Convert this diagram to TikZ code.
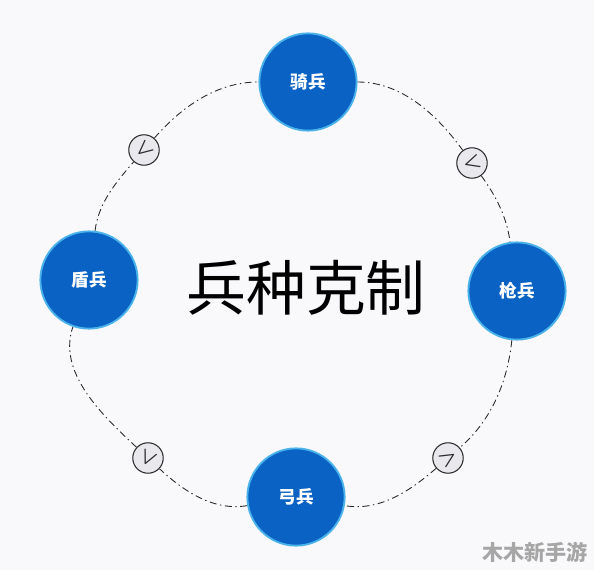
\documentclass[tikz,border=0pt]{standalone}
\usepackage{amsmath}
\usepackage{fontspec}
\newfontfamily\cjk{Noto Sans CJK SC}
\usetikzlibrary{positioning}
\definecolor{bgc}{HTML}{F9F8FB}
\definecolor{unitblue}{HTML}{0A62C4}
\definecolor{unitrim}{HTML}{4AB2EA}
\definecolor{ringc}{HTML}{2A2A2A}
\definecolor{markc}{HTML}{E9E8EC}
\pgfdeclarelayer{bg}
\pgfdeclarelayer{ringlayer}
\pgfsetlayers{bg,ringlayer,main}

\begin{document}
\begin{tikzpicture}[x=0.03cm, y=-0.03cm,
    unit/.style={draw=unitrim, line width=1.6pt, fill=unitblue, circle, minimum size=83pt, inner sep=0pt, text=white, font=\cjk\bfseries\fontsize{15}{15}\selectfont},
    markdot/.style={draw=ringc, line width=0.9pt, fill=markc, circle, minimum size=26pt, inner sep=0pt},
    sym/.style={font=\fontsize{17}{17}\selectfont, text=ringc, inner sep=0pt},
    ring/.style={ringc, line width=0.75pt, looseness=0.9, dash pattern=on 6pt off 3pt on 1.2pt off 3pt}]
              \useasboundingbox (0,0) rectangle (594,570);
              % Nodos
              \node[unit] (qi) at (308,82) {骑兵};
              \node[unit] (qiang) at (517,291) {枪兵};
              \node[unit] (gong) at (296,497) {弓兵};
              \node[unit] (dun) at (89,280) {盾兵};
              \node[markdot] (m1) at (144,150) {};
              \node[markdot] (m2) at (472,163) {};
              \node[markdot] (m3) at (448,458) {};
              \node[markdot] (m4) at (148,458) {};
              \node[sym, rotate=40] at (m1) {$\boldsymbol{<}$};
              \node[sym, rotate=17] at (m2) {$\boldsymbol{<}$};
              \node[sym, rotate=32] at (m3) {$\boldsymbol{>}$};
              \node[sym, rotate=65] at (m4) {$\boldsymbol{<}$};
              \node[font=\cjk\fontsize{51}{51}\selectfont] (title) at (306,288) {兵种克制};
              \node[text=black!35, font=\cjk\bfseries\fontsize{18}{18}\selectfont] (wm) at (535,552) {木木新手游};

              % Aristas
              \begin{pgfonlayer}{bg}
                \fill[bgc] (0,0) rectangle (594,570);
              \end{pgfonlayer}
              \begin{pgfonlayer}{ringlayer}
                \draw[ring] (qi) to[out=0, in=126] (m2);
                \draw[ring] (m2) to[out=-54, in=98] (qiang);
                \draw[ring] (qiang) to[out=-96, in=41] (m3);
                \draw[ring] (m3) to[out=-139, in=-10] (gong);
                \draw[ring] (gong) to[out=190, in=-43] (m4);
                \draw[ring] (m4) to[out=137, in=-109] (dun);
                \draw[ring] (dun) to[out=83, in=229] (m1);
                \draw[ring] (m1) to[out=49, in=180] (qi);
              \end{pgfonlayer}
            \end{tikzpicture}
\end{document}
